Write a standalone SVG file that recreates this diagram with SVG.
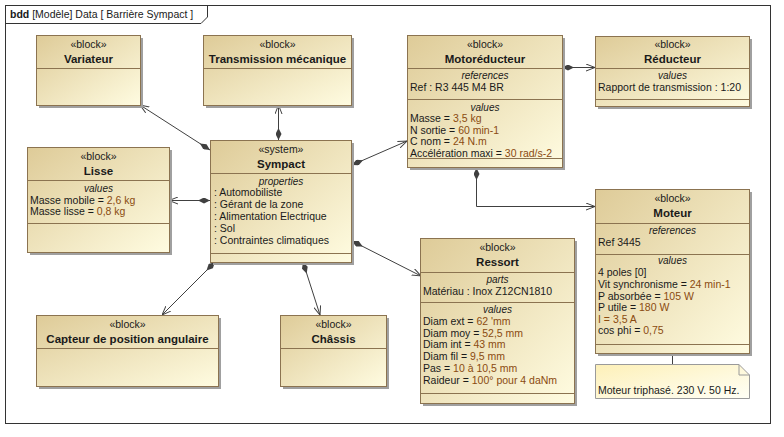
<svg xmlns="http://www.w3.org/2000/svg" width="784" height="437" viewBox="0 0 784 437">
<defs>
<linearGradient id="g" x1="0" y1="0" x2="1" y2="1">
<stop offset="0" stop-color="#DECB98"/>
<stop offset="1" stop-color="#FFFCE1"/>
</linearGradient>
<linearGradient id="gn" x1="0" y1="0" x2="1" y2="1">
<stop offset="0" stop-color="#FDF0B8"/>
<stop offset="1" stop-color="#FFFFF6"/>
</linearGradient>
<marker id="dia" viewBox="0 0 12 6" refX="0" refY="3" markerWidth="12" markerHeight="6" markerUnits="userSpaceOnUse" orient="auto">
<path d="M0,3 L6,0 L12,3 L6,6 Z" fill="#404040"/>
</marker>
<marker id="arr" viewBox="0 0 9 8" refX="9" refY="4" markerWidth="9" markerHeight="8" markerUnits="userSpaceOnUse" orient="auto">
<path d="M0,0.5 L9,4 L0,7.5" fill="none" stroke="#404040" stroke-width="1"/>
</marker>
</defs>
<style>
text{font-family:"Liberation Sans",Arial,sans-serif;font-size:10.5px;fill:#1a1a1a}
.c{text-anchor:middle}
.t{font-weight:bold;font-size:11.5px}
.i{font-style:italic;font-size:10px}
.v{fill:#8a4b10}
.box{fill:url(#g);stroke:#8B7350;stroke-width:1}
.sh{fill:#a0a0a0}
.dv{stroke:#8B7350;stroke-width:1}
.con{fill:none;stroke:#404040;stroke-width:1}
</style>
<rect width="784" height="437" fill="#ffffff"/>
<g id="frame">
<rect x="5.5" y="5.5" width="765" height="418" fill="none" stroke="#333333"/>
<path d="M5.5,23.5 H201 L207.5,17 V5.5" fill="none" stroke="#333333"/>
<text x="10" y="18"><tspan font-weight="bold">bdd</tspan> [Modèle] Data [ Barrière Sympact ]</text>
</g>
<g id="connectors">
<line class="con" x1="210" y1="150" x2="140" y2="105" marker-start="url(#dia)" marker-end="url(#arr)"/>
<line class="con" x1="278.5" y1="140" x2="278.5" y2="105" marker-start="url(#dia)" marker-end="url(#arr)"/>
<line class="con" x1="352" y1="165" x2="407" y2="141" marker-start="url(#dia)" marker-end="url(#arr)"/>
<line class="con" x1="210" y1="200.5" x2="169" y2="200.5" marker-start="url(#dia)" marker-end="url(#arr)"/>
<line class="con" x1="352" y1="241" x2="421" y2="276" marker-start="url(#dia)" marker-end="url(#arr)"/>
<line class="con" x1="215" y1="262" x2="162" y2="315" marker-start="url(#dia)" marker-end="url(#arr)"/>
<line class="con" x1="303" y1="262" x2="320" y2="315" marker-start="url(#dia)" marker-end="url(#arr)"/>
<line class="con" x1="562" y1="67.5" x2="595" y2="67.5" marker-start="url(#dia)" marker-end="url(#arr)"/>
<polyline class="con" points="476.5,168 476.5,206.5 595,206.5" marker-start="url(#dia)" marker-end="url(#arr)"/>
<line class="con" x1="672.5" y1="353" x2="672.5" y2="364"/>
</g>
<g id="variateur">
<rect class="sh" x="39" y="38" width="104" height="70"/>
<rect class="box" x="36.5" y="35.5" width="104" height="70"/>
<line class="dv" x1="36.5" y1="68.5" x2="140.5" y2="68.5"/>
<text class="c" x="88.5" y="48">«block»</text>
<text class="c t" x="88.5" y="63">Variateur</text>
</g>
<g id="transmission">
<rect class="sh" x="206" y="38" width="148" height="70"/>
<rect class="box" x="203.5" y="35.5" width="148" height="70"/>
<line class="dv" x1="203.5" y1="68.5" x2="351.5" y2="68.5"/>
<text class="c" x="277.5" y="48">«block»</text>
<text class="c t" x="277.5" y="63">Transmission mécanique</text>
</g>
<g id="motoreducteur">
<rect class="sh" x="410" y="38" width="155" height="132"/>
<rect class="box" x="407.5" y="35.5" width="155" height="132"/>
<line class="dv" x1="407.5" y1="68.5" x2="562.5" y2="68.5"/>
<line class="dv" x1="407.5" y1="99.5" x2="562.5" y2="99.5"/>
<line class="dv" x1="407.5" y1="158.5" x2="562.5" y2="158.5"/>
<text class="c" x="485" y="48">«block»</text>
<text class="c t" x="485" y="63">Motoréducteur</text>
<text class="c i" x="485" y="79">references</text>
<text x="410" y="91">Ref : R3 445 M4 BR</text>
<text class="c i" x="485" y="111">values</text>
<text x="410" y="122">Masse = <tspan class="v">3,5 kg</tspan></text>
<text x="410" y="134">N sortie = <tspan class="v">60 min-1</tspan></text>
<text x="410" y="145">C nom = <tspan class="v">24 N.m</tspan></text>
<text x="410" y="157">Accélération maxi = <tspan class="v">30 rad/s-2</tspan></text>
</g>
<g id="reducteur">
<rect class="sh" x="598" y="39" width="154" height="70"/>
<rect class="box" x="595.5" y="36.5" width="154" height="70"/>
<line class="dv" x1="595.5" y1="68.5" x2="749.5" y2="68.5"/>
<line class="dv" x1="595.5" y1="99.5" x2="749.5" y2="99.5"/>
<text class="c" x="672.5" y="48">«block»</text>
<text class="c t" x="672.5" y="63">Réducteur</text>
<text class="c i" x="672.5" y="79">values</text>
<text x="598" y="91">Rapport de transmission : 1:20</text>
</g>
<g id="lisse">
<rect class="sh" x="30" y="150" width="142" height="105"/>
<rect class="box" x="27.5" y="147.5" width="142" height="105"/>
<line class="dv" x1="27.5" y1="180.5" x2="169.5" y2="180.5"/>
<line class="dv" x1="27.5" y1="223.5" x2="169.5" y2="223.5"/>
<text class="c" x="98.5" y="160">«block»</text>
<text class="c t" x="98.5" y="175">Lisse</text>
<text class="c i" x="98.5" y="192">values</text>
<text x="30" y="204">Masse mobile = <tspan class="v">2,6 kg</tspan></text>
<text x="30" y="215">Masse lisse = <tspan class="v">0,8 kg</tspan></text>
</g>
<g id="sympact">
<rect class="sh" x="213" y="143" width="141" height="122"/>
<rect class="box" x="210.5" y="140.5" width="141" height="122"/>
<line class="dv" x1="210.5" y1="173.5" x2="351.5" y2="173.5"/>
<line class="dv" x1="210.5" y1="253.5" x2="351.5" y2="253.5"/>
<text class="c" x="281" y="153">«system»</text>
<text class="c t" x="281" y="168">Sympact</text>
<text class="c i" x="281" y="185">properties</text>
<text x="214" y="196">: Automobiliste</text>
<text x="214" y="208">: Gérant de la zone</text>
<text x="214" y="220">: Alimentation Electrique</text>
<text x="214" y="232">: Sol</text>
<text x="214" y="244">: Contraintes climatiques</text>
</g>
<g id="ressort">
<rect class="sh" x="423" y="241" width="154" height="165"/>
<rect class="box" x="420.5" y="238.5" width="154" height="165"/>
<line class="dv" x1="420.5" y1="272.5" x2="574.5" y2="272.5"/>
<line class="dv" x1="420.5" y1="302.5" x2="574.5" y2="302.5"/>
<line class="dv" x1="420.5" y1="393.5" x2="574.5" y2="393.5"/>
<text class="c" x="497.5" y="251">«block»</text>
<text class="c t" x="497.5" y="266">Ressort</text>
<text class="c i" x="497.5" y="283">parts</text>
<text x="423" y="295">Matériau : Inox Z12CN1810</text>
<text class="c i" x="497.5" y="313">values</text>
<text x="423" y="325">Diam ext = <tspan class="v">62 'mm</tspan></text>
<text x="423" y="337">Diam moy = <tspan class="v">52,5 mm</tspan></text>
<text x="423" y="348">Diam int = <tspan class="v">43 mm</tspan></text>
<text x="423" y="360">Diam fil = <tspan class="v">9,5 mm</tspan></text>
<text x="423" y="372">Pas = <tspan class="v">10 à 10,5 mm</tspan></text>
<text x="423" y="384">Raideur = <tspan class="v">100° pour 4 daNm</tspan></text>
</g>
<g id="moteur">
<rect class="sh" x="598" y="192" width="154" height="164"/>
<rect class="box" x="595.5" y="189.5" width="154" height="164"/>
<line class="dv" x1="595.5" y1="223.5" x2="749.5" y2="223.5"/>
<line class="dv" x1="595.5" y1="254.5" x2="749.5" y2="254.5"/>
<line class="dv" x1="595.5" y1="344.5" x2="749.5" y2="344.5"/>
<text class="c" x="672.5" y="202">«block»</text>
<text class="c t" x="672.5" y="217">Moteur</text>
<text class="c i" x="672.5" y="234">references</text>
<text x="598" y="246">Ref 3445</text>
<text class="c i" x="672.5" y="264">values</text>
<text x="598" y="276">4 poles [0]</text>
<text x="598" y="288">Vit synchronisme = <tspan class="v">24 min-1</tspan></text>
<text x="598" y="300">P absorbée = <tspan class="v">105 W</tspan></text>
<text x="598" y="311">P utile = <tspan class="v">180 W</tspan></text>
<text x="598" y="323"><tspan class="v">I = 3,5 A</tspan></text>
<text x="598" y="334">cos phi = <tspan class="v">0,75</tspan></text>
</g>
<g id="capteur">
<rect class="sh" x="39" y="318" width="182" height="71"/>
<rect class="box" x="36.5" y="315.5" width="182" height="71"/>
<line class="dv" x1="36.5" y1="348.5" x2="218.5" y2="348.5"/>
<text class="c" x="127.5" y="328">«block»</text>
<text class="c t" x="127.5" y="343">Capteur de position angulaire</text>
</g>
<g id="chassis">
<rect class="sh" x="283" y="318" width="106" height="71"/>
<rect class="box" x="280.5" y="315.5" width="106" height="71"/>
<line class="dv" x1="280.5" y1="348.5" x2="386.5" y2="348.5"/>
<text class="c" x="333.5" y="328">«block»</text>
<text class="c t" x="333.5" y="343">Châssis</text>
</g>
<g id="note">
<path d="M595.5,364.5 H739 L749.5,375 V398.5 H595.5 Z" fill="url(#gn)" stroke="#9a9a9a"/>
<path d="M739,364.5 V375 H749.5" fill="none" stroke="#9a9a9a"/>
<text x="598" y="394">Moteur triphasé. 230 V. 50 Hz.</text>
</g>
</svg>
